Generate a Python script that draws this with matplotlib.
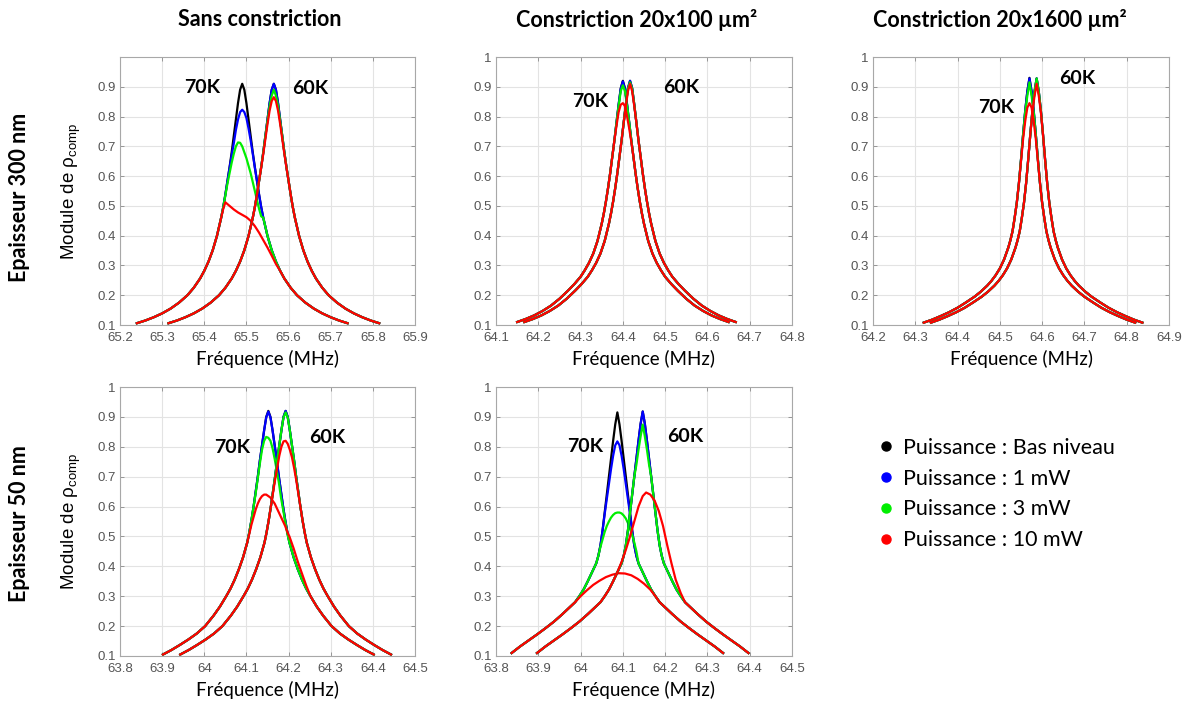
import matplotlib
matplotlib.use("Agg")
import matplotlib.pyplot as plt
from matplotlib.lines import Line2D

# ---------- values (frequency in MHz, |rho_comp|) ----------
# Each resonance: a frequency list, shared tails (left / right) and the
# peak part per power level (black = bas niveau, blue = 1 mW, green = 3 mW, red = 10 mW).

# panel A : sans constriction, 300 nm
f_a70 = [65.24, 65.26, 65.28, 65.30, 65.32, 65.34, 65.36, 65.375, 65.39, 65.40, 65.41, 65.42,
         65.43, 65.44, 65.445, 65.45, 65.455, 65.46, 65.465, 65.47, 65.475, 65.48, 65.485, 65.49,
         65.495, 65.50, 65.505, 65.51, 65.515, 65.52, 65.525, 65.53, 65.535, 65.54, 65.55, 65.56,
         65.57, 65.58, 65.59, 65.605, 65.62, 65.64, 65.66, 65.68, 65.70, 65.72, 65.74]
f_a60 = [65.315, 65.335, 65.355, 65.375, 65.395, 65.415, 65.435, 65.45, 65.465, 65.475, 65.485,
         65.495, 65.505, 65.515, 65.52, 65.525, 65.53, 65.535, 65.54, 65.545, 65.55, 65.555, 65.56,
         65.565, 65.57, 65.575, 65.58, 65.585, 65.59, 65.595, 65.60, 65.605, 65.61, 65.615, 65.625,
         65.635, 65.645, 65.655, 65.665, 65.68, 65.695, 65.715, 65.735, 65.755, 65.775, 65.795,
         65.815]
a_tail_l = [0.106, 0.115, 0.126, 0.139, 0.155, 0.175, 0.200, 0.225, 0.256, 0.282, 0.313, 0.351,
            0.399, 0.460]
a_tail_r = [0.460, 0.399, 0.351, 0.313, 0.282, 0.256, 0.225, 0.200, 0.175, 0.155, 0.139, 0.126,
            0.115, 0.106]
a70_black = [0.496, 0.538, 0.584, 0.630, 0.680, 0.735, 0.790, 0.845, 0.890, 0.910, 0.890, 0.845,
             0.790, 0.735, 0.680, 0.630, 0.584, 0.538, 0.496]
a70_blue = [0.496, 0.538, 0.584, 0.628, 0.670, 0.710, 0.755, 0.790, 0.815, 0.823, 0.815, 0.795,
            0.760, 0.720, 0.675, 0.628, 0.584, 0.538, 0.496]
a70_green = [0.496, 0.535, 0.575, 0.610, 0.645, 0.675, 0.700, 0.713, 0.712, 0.700, 0.680, 0.660,
             0.635, 0.610, 0.580, 0.550, 0.520, 0.490, 0.465]
f_a70_red = [65.24, 65.26, 65.28, 65.30, 65.32, 65.34, 65.36, 65.375, 65.39, 65.40, 65.41, 65.42,
             65.43, 65.44, 65.445, 65.45, 65.46, 65.47, 65.48, 65.49, 65.50, 65.51, 65.52, 65.53,
             65.54, 65.55, 65.56, 65.57, 65.58, 65.59, 65.605, 65.62, 65.64, 65.66, 65.68, 65.70,
             65.72, 65.74]
a70_red = [0.106, 0.115, 0.126, 0.139, 0.155, 0.175, 0.200, 0.225, 0.256, 0.282, 0.313, 0.351,
           0.399, 0.460, 0.490, 0.512, 0.500, 0.488, 0.478, 0.470, 0.462, 0.450, 0.432, 0.410,
           0.385, 0.360, 0.333, 0.305, 0.282, 0.256, 0.225, 0.200, 0.175, 0.155, 0.139, 0.126,
           0.115, 0.106]
a60_black = [0.496, 0.538, 0.584, 0.630, 0.680, 0.735, 0.790, 0.845, 0.890, 0.910, 0.890, 0.845,
             0.790, 0.735, 0.680, 0.630, 0.584, 0.538, 0.496]
a60_blue = [0.496, 0.538, 0.584, 0.630, 0.680, 0.735, 0.790, 0.845, 0.890, 0.910, 0.890, 0.845,
            0.790, 0.735, 0.680, 0.630, 0.584, 0.538, 0.496]
a60_green = [0.496, 0.538, 0.584, 0.630, 0.680, 0.735, 0.785, 0.835, 0.870, 0.890, 0.870, 0.835,
             0.785, 0.735, 0.680, 0.630, 0.584, 0.538, 0.496]
a60_red = [0.496, 0.538, 0.584, 0.628, 0.675, 0.725, 0.775, 0.820, 0.852, 0.865, 0.852, 0.820,
           0.775, 0.725, 0.675, 0.628, 0.584, 0.538, 0.496]

# panel B : constriction 20x100, 300 nm
f_b70 = [64.15, 64.17, 64.19, 64.21, 64.23, 64.25, 64.27, 64.285, 64.30, 64.31, 64.32, 64.33,
         64.34, 64.35, 64.355, 64.36, 64.365, 64.37, 64.375, 64.38, 64.385, 64.39, 64.395, 64.40,
         64.405, 64.41, 64.415, 64.42, 64.425, 64.43, 64.435, 64.44, 64.445, 64.45, 64.46, 64.47,
         64.48, 64.49, 64.50, 64.515, 64.53, 64.55, 64.57, 64.59, 64.61, 64.63, 64.65]
f_b60 = [64.167, 64.187, 64.207, 64.227, 64.247, 64.267, 64.287, 64.302, 64.317, 64.327, 64.337,
         64.347, 64.357, 64.367, 64.372, 64.377, 64.382, 64.387, 64.392, 64.397, 64.402, 64.407,
         64.412, 64.417, 64.422, 64.427, 64.432, 64.437, 64.442, 64.447, 64.452, 64.457, 64.462,
         64.467, 64.477, 64.487, 64.497, 64.507, 64.517, 64.532, 64.547, 64.567, 64.587, 64.607,
         64.627, 64.647, 64.667]
b_tail_l = [0.110, 0.120, 0.132, 0.147, 0.165, 0.188, 0.215, 0.237, 0.262, 0.284, 0.309, 0.340,
            0.382, 0.440]
b_tail_r = [0.440, 0.382, 0.340, 0.309, 0.284, 0.262, 0.237, 0.215, 0.188, 0.165, 0.147, 0.132,
            0.120, 0.110]
b70_black = [0.475, 0.515, 0.560, 0.610, 0.665, 0.720, 0.780, 0.840, 0.895, 0.920, 0.895, 0.840,
             0.780, 0.720, 0.665, 0.610, 0.560, 0.515, 0.475]
b70_blue = [0.475, 0.515, 0.560, 0.610, 0.665, 0.720, 0.780, 0.840, 0.893, 0.918, 0.893, 0.840,
            0.780, 0.720, 0.665, 0.610, 0.560, 0.515, 0.475]
b70_green = [0.475, 0.515, 0.560, 0.610, 0.665, 0.720, 0.780, 0.835, 0.885, 0.905, 0.885, 0.835,
             0.780, 0.720, 0.665, 0.610, 0.560, 0.515, 0.475]
b70_red = [0.475, 0.515, 0.560, 0.610, 0.665, 0.720, 0.770, 0.815, 0.840, 0.845, 0.835, 0.800,
           0.760, 0.715, 0.665, 0.610, 0.560, 0.515, 0.475]
b60_black = [0.475, 0.515, 0.560, 0.610, 0.665, 0.720, 0.780, 0.840, 0.895, 0.920, 0.895, 0.840,
             0.780, 0.720, 0.665, 0.610, 0.560, 0.515, 0.475]
b60_blue = [0.475, 0.515, 0.560, 0.610, 0.665, 0.720, 0.780, 0.840, 0.895, 0.920, 0.895, 0.840,
            0.780, 0.720, 0.665, 0.610, 0.560, 0.515, 0.475]
b60_green = [0.475, 0.515, 0.560, 0.610, 0.665, 0.720, 0.780, 0.840, 0.893, 0.915, 0.893, 0.840,
             0.780, 0.720, 0.665, 0.610, 0.560, 0.515, 0.475]
b60_red = [0.475, 0.515, 0.560, 0.610, 0.665, 0.720, 0.780, 0.835, 0.885, 0.910, 0.885, 0.835,
           0.780, 0.720, 0.665, 0.610, 0.560, 0.515, 0.475]

# panel C : constriction 20x1600, 300 nm
f_c70 = [64.32, 64.34, 64.36, 64.38, 64.40, 64.42, 64.44, 64.455, 64.47, 64.48, 64.49, 64.50,
         64.51, 64.52, 64.525, 64.53, 64.535, 64.54, 64.545, 64.55, 64.555, 64.56, 64.565, 64.57,
         64.575, 64.58, 64.585, 64.59, 64.595, 64.60, 64.605, 64.61, 64.615, 64.62, 64.63, 64.64,
         64.65, 64.66, 64.67, 64.685, 64.70, 64.72, 64.74, 64.76, 64.78, 64.80, 64.82]
f_c60 = [64.337, 64.357, 64.377, 64.397, 64.417, 64.437, 64.457, 64.472, 64.487, 64.497, 64.507,
         64.517, 64.527, 64.537, 64.542, 64.547, 64.552, 64.557, 64.562, 64.567, 64.572, 64.577,
         64.582, 64.587, 64.592, 64.597, 64.602, 64.607, 64.612, 64.617, 64.622, 64.627, 64.632,
         64.637, 64.647, 64.657, 64.667, 64.677, 64.687, 64.702, 64.717, 64.737, 64.757, 64.777,
         64.797, 64.817, 64.837]
c_tail_l = [0.108, 0.118, 0.130, 0.143, 0.158, 0.176, 0.195, 0.212, 0.232, 0.248, 0.267, 0.290,
            0.320, 0.360]
c_tail_r = [0.360, 0.320, 0.290, 0.267, 0.248, 0.232, 0.212, 0.195, 0.176, 0.158, 0.143, 0.130,
            0.118, 0.108]
c70_black = [0.385, 0.415, 0.460, 0.510, 0.575, 0.655, 0.740, 0.820, 0.885, 0.930, 0.885, 0.820,
             0.740, 0.655, 0.575, 0.510, 0.460, 0.415, 0.385]
c70_blue = [0.385, 0.415, 0.460, 0.510, 0.575, 0.655, 0.740, 0.820, 0.884, 0.928, 0.884, 0.820,
            0.740, 0.655, 0.575, 0.510, 0.460, 0.415, 0.385]
c70_green = [0.385, 0.415, 0.460, 0.510, 0.575, 0.655, 0.740, 0.815, 0.870, 0.915, 0.870, 0.815,
             0.740, 0.655, 0.575, 0.510, 0.460, 0.415, 0.385]
c70_red = [0.385, 0.415, 0.460, 0.510, 0.575, 0.650, 0.725, 0.785, 0.830, 0.845, 0.830, 0.785,
           0.725, 0.650, 0.575, 0.510, 0.460, 0.415, 0.385]
c60_black = [0.385, 0.415, 0.460, 0.510, 0.575, 0.655, 0.740, 0.820, 0.884, 0.928, 0.884, 0.820,
             0.740, 0.655, 0.575, 0.510, 0.460, 0.415, 0.385]
c60_blue = [0.385, 0.415, 0.460, 0.510, 0.575, 0.655, 0.740, 0.820, 0.884, 0.928, 0.884, 0.820,
            0.740, 0.655, 0.575, 0.510, 0.460, 0.415, 0.385]
c60_green = [0.385, 0.415, 0.460, 0.510, 0.575, 0.655, 0.740, 0.820, 0.884, 0.928, 0.884, 0.820,
             0.740, 0.655, 0.575, 0.510, 0.460, 0.415, 0.385]
c60_red = [0.385, 0.415, 0.460, 0.510, 0.575, 0.655, 0.740, 0.815, 0.870, 0.910, 0.870, 0.815,
           0.740, 0.655, 0.575, 0.510, 0.460, 0.415, 0.385]

# panel D : sans constriction, 50 nm
f_d70 = [63.902, 63.922, 63.942, 63.962, 63.982, 64.002, 64.022, 64.037, 64.052, 64.062, 64.072,
         64.082, 64.092, 64.102, 64.107, 64.112, 64.117, 64.122, 64.127, 64.132, 64.137, 64.142,
         64.147, 64.152, 64.157, 64.162, 64.167, 64.172, 64.177, 64.182, 64.187, 64.192, 64.197,
         64.202, 64.212, 64.222, 64.232, 64.242, 64.252, 64.267, 64.282, 64.302, 64.322, 64.342,
         64.362, 64.382, 64.402]
f_d60 = [63.943, 63.963, 63.983, 64.003, 64.023, 64.043, 64.063, 64.078, 64.093, 64.103, 64.113,
         64.123, 64.133, 64.143, 64.148, 64.153, 64.158, 64.163, 64.168, 64.173, 64.178, 64.183,
         64.188, 64.193, 64.198, 64.203, 64.208, 64.213, 64.218, 64.223, 64.228, 64.233, 64.238,
         64.243, 64.253, 64.263, 64.273, 64.283, 64.293, 64.308, 64.323, 64.343, 64.363, 64.383,
         64.403, 64.423, 64.443]
d_tail_l = [0.105, 0.120, 0.137, 0.155, 0.175, 0.200, 0.235, 0.265, 0.300, 0.325, 0.355, 0.390,
            0.430, 0.480]
d_tail_r = [0.480, 0.430, 0.390, 0.355, 0.325, 0.300, 0.265, 0.235, 0.200, 0.175, 0.155, 0.137,
            0.120, 0.105]
d70_black = [0.515, 0.555, 0.600, 0.650, 0.700, 0.755, 0.805, 0.855, 0.900, 0.920, 0.900, 0.855,
             0.805, 0.755, 0.700, 0.650, 0.600, 0.555, 0.515]
d70_blue = [0.515, 0.555, 0.600, 0.650, 0.700, 0.755, 0.805, 0.855, 0.898, 0.918, 0.898, 0.855,
            0.805, 0.755, 0.700, 0.650, 0.600, 0.555, 0.515]
d70_green = [0.515, 0.555, 0.600, 0.645, 0.695, 0.745, 0.790, 0.820, 0.833, 0.830, 0.820, 0.795,
             0.760, 0.720, 0.680, 0.630, 0.590, 0.550, 0.510]
d70_red = [0.105, 0.120, 0.137, 0.155, 0.175, 0.200, 0.235, 0.265, 0.300, 0.325, 0.355, 0.390,
           0.430, 0.480, 0.510, 0.540, 0.565, 0.590, 0.610, 0.625, 0.635, 0.640, 0.640, 0.635,
           0.630, 0.620, 0.610, 0.595, 0.580, 0.565, 0.550, 0.535, 0.515, 0.500, 0.460, 0.415,
           0.375, 0.335, 0.300, 0.265, 0.235, 0.200, 0.175, 0.155, 0.137, 0.120, 0.105]
d60_black = [0.515, 0.555, 0.600, 0.650, 0.700, 0.755, 0.805, 0.855, 0.900, 0.920, 0.900, 0.855,
             0.805, 0.755, 0.700, 0.650, 0.600, 0.555, 0.515]
d60_blue = [0.515, 0.555, 0.600, 0.650, 0.700, 0.755, 0.805, 0.855, 0.900, 0.920, 0.900, 0.855,
            0.805, 0.755, 0.700, 0.650, 0.600, 0.555, 0.515]
d60_green = [0.515, 0.555, 0.600, 0.650, 0.700, 0.755, 0.805, 0.855, 0.898, 0.915, 0.898, 0.855,
             0.805, 0.755, 0.700, 0.650, 0.600, 0.555, 0.515]
d60_red = [0.515, 0.555, 0.600, 0.645, 0.690, 0.730, 0.770, 0.800, 0.818, 0.820, 0.810, 0.790,
           0.765, 0.730, 0.690, 0.645, 0.600, 0.555, 0.515]

# panel E : constriction 20x100, 50 nm
f_e70 = [63.837, 63.857, 63.877, 63.897, 63.917, 63.937, 63.957, 63.972, 63.987, 63.997, 64.007,
         64.017, 64.027, 64.037, 64.042, 64.047, 64.052, 64.057, 64.062, 64.067, 64.072, 64.077,
         64.082, 64.087, 64.092, 64.097, 64.102, 64.107, 64.112, 64.117, 64.122, 64.127, 64.132,
         64.137, 64.147, 64.157, 64.167, 64.177, 64.187, 64.202, 64.217, 64.237, 64.257, 64.277,
         64.297, 64.317, 64.337]
f_e60 = [63.897, 63.917, 63.937, 63.957, 63.977, 63.997, 64.017, 64.032, 64.047, 64.057, 64.067,
         64.077, 64.087, 64.097, 64.102, 64.107, 64.112, 64.117, 64.122, 64.127, 64.132, 64.137,
         64.142, 64.147, 64.152, 64.157, 64.162, 64.167, 64.172, 64.177, 64.182, 64.187, 64.192,
         64.197, 64.207, 64.217, 64.227, 64.237, 64.247, 64.262, 64.277, 64.297, 64.317, 64.337,
         64.357, 64.377, 64.397]
e_tail_l = [0.110, 0.132, 0.152, 0.172, 0.193, 0.215, 0.240, 0.260, 0.280, 0.300, 0.322, 0.350,
            0.380, 0.410]
e_tail_r = [0.410, 0.380, 0.350, 0.322, 0.300, 0.280, 0.260, 0.240, 0.215, 0.193, 0.172, 0.152,
            0.132, 0.110]
e70_black = [0.435, 0.470, 0.520, 0.580, 0.640, 0.700, 0.760, 0.820, 0.875, 0.915, 0.875, 0.820,
             0.760, 0.700, 0.640, 0.580, 0.520, 0.470, 0.435]
e70_blue = [0.435, 0.470, 0.520, 0.575, 0.625, 0.675, 0.725, 0.770, 0.805, 0.818, 0.805, 0.770,
            0.725, 0.675, 0.625, 0.575, 0.520, 0.470, 0.435]
e70_green = [0.435, 0.465, 0.490, 0.515, 0.535, 0.550, 0.563, 0.572, 0.578, 0.580, 0.580, 0.577,
             0.570, 0.560, 0.545, 0.525, 0.505, 0.480, 0.450]
f_e70_red = [63.837, 63.857, 63.877, 63.897, 63.917, 63.937, 63.957, 63.972, 63.987, 64.00, 64.015,
             64.03, 64.045, 64.06, 64.075, 64.09, 64.105, 64.12, 64.135, 64.15, 64.165, 64.177,
             64.187, 64.202, 64.217, 64.237, 64.257, 64.277, 64.297, 64.317, 64.337]
e70_red = [0.110, 0.132, 0.152, 0.172, 0.193, 0.215, 0.240, 0.260, 0.280, 0.300, 0.320, 0.338,
           0.352, 0.364, 0.372, 0.377, 0.376, 0.370, 0.358, 0.342, 0.322, 0.300, 0.280, 0.260,
           0.240, 0.215, 0.193, 0.172, 0.152, 0.132, 0.110]
e60_black = [0.435, 0.470, 0.520, 0.580, 0.640, 0.700, 0.760, 0.820, 0.877, 0.918, 0.877, 0.820,
             0.760, 0.700, 0.640, 0.580, 0.520, 0.470, 0.435]
e60_blue = [0.435, 0.470, 0.520, 0.580, 0.640, 0.700, 0.760, 0.820, 0.877, 0.918, 0.877, 0.820,
            0.760, 0.700, 0.640, 0.580, 0.520, 0.470, 0.435]
e60_green = [0.435, 0.470, 0.520, 0.580, 0.640, 0.700, 0.740, 0.790, 0.835, 0.874, 0.835, 0.790,
             0.740, 0.700, 0.640, 0.580, 0.520, 0.470, 0.435]
f_e60_red = [63.897, 63.917, 63.937, 63.957, 63.977, 63.997, 64.017, 64.032, 64.047, 64.057, 64.067,
             64.077, 64.087, 64.097, 64.107, 64.117, 64.127, 64.137, 64.147, 64.155, 64.165, 64.175,
             64.185, 64.195, 64.205, 64.215, 64.225, 64.237, 64.247, 64.262, 64.277, 64.297, 64.317,
             64.337, 64.357, 64.377, 64.397]
e60_red = [0.110, 0.132, 0.152, 0.172, 0.193, 0.215, 0.240, 0.260, 0.280, 0.300, 0.322, 0.350,
           0.380, 0.415, 0.455, 0.500, 0.550, 0.600, 0.635, 0.647, 0.640, 0.620, 0.585, 0.535,
           0.470, 0.410, 0.355, 0.310, 0.280, 0.260, 0.240, 0.215, 0.193, 0.172, 0.152, 0.132,
           0.110]

col_titles = ["Sans constriction", "Constriction 20x100 µm²", "Constriction 20x1600 µm²"]
row_titles = ["Epaisseur 300 nm", "Epaisseur 50 nm"]
legend_labels = ["Puissance : Bas niveau", "Puissance : 1 mW", "Puissance : 3 mW",
                 "Puissance : 10 mW"]
colors = ["#000000", "#0000ff", "#00ee00", "#ff0000"]

xt_a = [65.2, 65.3, 65.4, 65.5, 65.6, 65.7, 65.8, 65.9]
xt_b = [64.1, 64.2, 64.3, 64.4, 64.5, 64.6, 64.7, 64.8]
xt_c = [64.2, 64.3, 64.4, 64.5, 64.6, 64.7, 64.8, 64.9]
xt_de = [63.8, 63.9, 64.0, 64.1, 64.2, 64.3, 64.4, 64.5]
yt_full = [0.1, 0.2, 0.3, 0.4, 0.5, 0.6, 0.7, 0.8, 0.9, 1.0]

TXT = "Lato"
TICK = "Liberation Sans"
W, H = 1187.0, 703.0


def box(l, t, r, b):
    return [l / W, 1 - b / H, (r - l) / W, (b - t) / H]


def setup_axes(ax, xticks, yticks, ylabel=False):
    ax.set_xlim(xticks[0], xticks[-1])
    ax.set_ylim(0.1, 1.0)
    ax.set_xticks(xticks)
    ax.set_xticklabels([f"{t:g}" for t in xticks], family=TICK)
    ax.set_yticks(yticks)
    ax.set_yticklabels([f"{t:g}" for t in yticks], family=TICK)
    ax.grid(True, color="#e3e3e3", linewidth=0.8)
    ax.set_axisbelow(True)
    for s in ax.spines.values():
        s.set_color("#a8a8a8")
        s.set_linewidth(0.8)
    ax.tick_params(direction="in", length=3, width=0.6, color="#8a8a8a", labelsize=9.5,
                   labelcolor="#555555", top=True, right=True)
    ax.tick_params(axis="x", pad=5)
    ax.tick_params(axis="y", pad=3)
    ax.set_xlabel("Fréquence (MHz)", fontsize=13.5, family=TXT, labelpad=4)
    if ylabel:
        ax.set_ylabel("Module de ρ$_{\\mathregular{comp}}$", fontsize=13.5, family=TICK,
                      labelpad=10)


def draw(ax, curves):
    for f, y, c in curves:
        ax.plot(f, y, color=c, linewidth=1.6, solid_joinstyle="round")


def label(ax, x70, y70, x60, y60):
    ax.text(x70, y70, "70K", ha="center", va="center", fontsize=14, fontweight="bold", family=TXT)
    ax.text(x60, y60, "60K", ha="center", va="center", fontsize=14, fontweight="bold", family=TXT)


fig = plt.figure(figsize=(11.87, 7.03), dpi=100)

# --- A : sans constriction, 300 nm
ax = fig.add_axes(box(120, 57, 415, 325))
draw(ax, [(f_a70, a_tail_l + a70_black + a_tail_r, colors[0]),
          (f_a70, a_tail_l + a70_blue + a_tail_r, colors[1]),
          (f_a70, a_tail_l + a70_green + a_tail_r, colors[2]),
          (f_a70_red, a70_red, colors[3]),
          (f_a60, a_tail_l + a60_black + a_tail_r, colors[0]),
          (f_a60, a_tail_l + a60_blue + a_tail_r, colors[1]),
          (f_a60, a_tail_l + a60_green + a_tail_r, colors[2]),
          (f_a60, a_tail_l + a60_red + a_tail_r, colors[3])])
setup_axes(ax, xt_a, yt_full[:-1], True)
label(ax, 65.396, 0.897, 65.652, 0.893)

# --- B : constriction 20x100, 300 nm
ax = fig.add_axes(box(496, 57, 792, 325))
draw(ax, [(f_b70, b_tail_l + b70_black + b_tail_r, colors[0]),
          (f_b70, b_tail_l + b70_blue + b_tail_r, colors[1]),
          (f_b70, b_tail_l + b70_green + b_tail_r, colors[2]),
          (f_b60, b_tail_l + b60_black + b_tail_r, colors[0]),
          (f_b60, b_tail_l + b60_blue + b_tail_r, colors[1]),
          (f_b60, b_tail_l + b60_green + b_tail_r, colors[2]),
          (f_b70, b_tail_l + b70_red + b_tail_r, colors[3]),
          (f_b60, b_tail_l + b60_red + b_tail_r, colors[3])])
setup_axes(ax, xt_b, yt_full)
label(ax, 64.322, 0.852, 64.537, 0.899)

# --- C : constriction 20x1600, 300 nm
ax = fig.add_axes(box(873, 57, 1169, 325))
draw(ax, [(f_c70, c_tail_l + c70_black + c_tail_r, colors[0]),
          (f_c70, c_tail_l + c70_blue + c_tail_r, colors[1]),
          (f_c70, c_tail_l + c70_green + c_tail_r, colors[2]),
          (f_c60, c_tail_l + c60_black + c_tail_r, colors[0]),
          (f_c60, c_tail_l + c60_blue + c_tail_r, colors[1]),
          (f_c60, c_tail_l + c60_green + c_tail_r, colors[2]),
          (f_c70, c_tail_l + c70_red + c_tail_r, colors[3]),
          (f_c60, c_tail_l + c60_red + c_tail_r, colors[3])])
setup_axes(ax, xt_c, yt_full)
label(ax, 64.49, 0.83, 64.682, 0.927)

# --- D : sans constriction, 50 nm
ax = fig.add_axes(box(120, 387, 415, 656))
draw(ax, [(f_d70, d_tail_l + d70_black + d_tail_r, colors[0]),
          (f_d70, d_tail_l + d70_blue + d_tail_r, colors[1]),
          (f_d70, d_tail_l + d70_green + d_tail_r, colors[2]),
          (f_d70, d70_red, colors[3]),
          (f_d60, d_tail_l + d60_black + d_tail_r, colors[0]),
          (f_d60, d_tail_l + d60_blue + d_tail_r, colors[1]),
          (f_d60, d_tail_l + d60_green + d_tail_r, colors[2]),
          (f_d60, d_tail_l + d60_red + d_tail_r, colors[3])])
setup_axes(ax, xt_de, yt_full, True)
label(ax, 64.065, 0.799, 64.292, 0.832)

# --- E : constriction 20x100, 50 nm
ax = fig.add_axes(box(496, 387, 792, 656))
draw(ax, [(f_e70, e_tail_l + e70_black + e_tail_r, colors[0]),
          (f_e70, e_tail_l + e70_blue + e_tail_r, colors[1]),
          (f_e70, e_tail_l + e70_green + e_tail_r, colors[2]),
          (f_e70_red, e70_red, colors[3]),
          (f_e60, e_tail_l + e60_black + e_tail_r, colors[0]),
          (f_e60, e_tail_l + e60_blue + e_tail_r, colors[1]),
          (f_e60, e_tail_l + e60_green + e_tail_r, colors[2]),
          (f_e60_red, e60_red, colors[3])])
setup_axes(ax, xt_de, yt_full)
label(ax, 64.01, 0.80, 64.248, 0.833)

# column / row titles
for x, t in zip([260, 637, 1000], col_titles):
    fig.text(x / W, 1 - 20 / H, t, ha="center", va="center", fontsize=15.5, fontweight="bold",
             family=TXT)
for y, t in zip([197, 524], row_titles):
    fig.text(20 / W, 1 - y / H, t, ha="center", va="center", rotation=90, fontsize=15.5,
             fontweight="bold", family=TXT)

# legend in the empty bottom-right slot
handles = [Line2D([], [], linestyle="none", marker="o", markersize=6.5, color=c) for c in colors]
fig.legend(handles, legend_labels, loc="upper left", bbox_to_anchor=(864 / W, 1 - 427 / H),
           frameon=False, prop={"family": TXT, "size": 15.5}, handletextpad=0.3,
           labelspacing=0.5, handlelength=1.0, borderpad=0)

fig.savefig("out.png", dpi=100)
